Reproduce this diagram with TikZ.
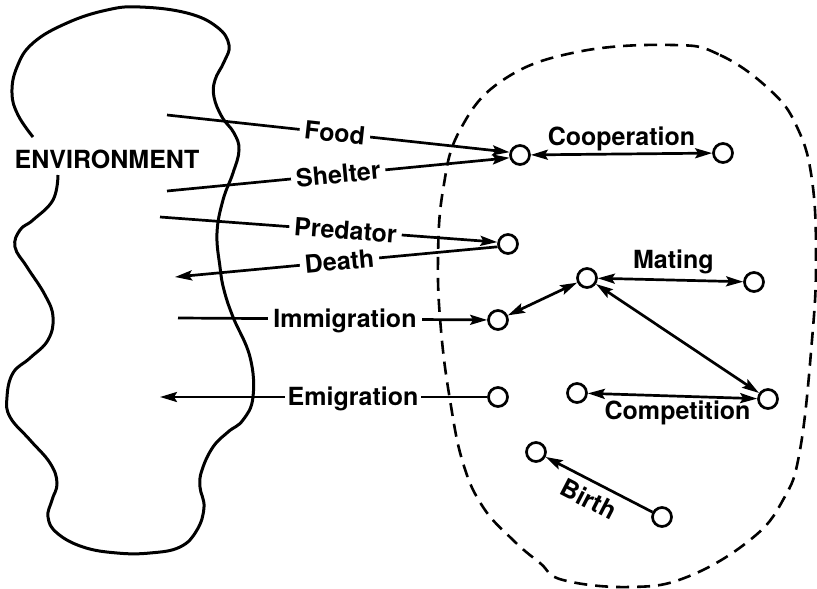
\documentclass[tikz,border=0pt]{standalone}
\usepackage{fontspec}
\setmainfont{TeX Gyre Heros}
\usetikzlibrary{arrows.meta}
\begin{document}
\begin{tikzpicture}[x=1pt,y=-1pt,
  tipstyle/.tip={Stealth[length=17pt,width=10pt,inset=3pt]},
  arr/.style={line width=2.7pt, -tipstyle},
  darr/.style={line width=2.7pt, tipstyle-tipstyle},
  dot/.style={circle, draw, line width=2.7pt, minimum size=19pt, inner sep=0pt, fill=white},
  lbl/.style={font=\bfseries\fontsize{25}{25}\selectfont, fill=white, inner xsep=5pt, inner ysep=1pt, text height=17.5pt, text depth=0pt},
  tag/.style={font=\bfseries\fontsize{25}{25}\selectfont, inner sep=1pt, text height=17.5pt, text depth=0pt}
]
\useasboundingbox (0,0) rectangle (817,589);

% environment outline
\draw[line width=3pt] plot[smooth, tension=0.7] coordinates {(33,137) (18,115) (12,93) (17,67) (33,43) (67,23) (107,10) (140,7) (187,13) (217,27) (229,45) (224,62) (215,80) (214,97) (222,117) (234,133) (239,150) (233,173) (223,200) (217,233) (220,267) (224,290) (233,317) (250,357) (253,397) (243,420) (228,432) (213,447) (202,470) (200,487) (204,507) (197,530) (180,547) (150,553) (117,553) (83,547) (57,533) (48,517) (52,500) (57,483) (50,463) (30,440) (10,417) (7,397) (13,373) (30,358) (48,340) (53,317) (45,295) (27,267) (15,247) (20,230) (33,220) (53,200) (58,175)};
\node[font=\bfseries\fontsize{25}{25}\selectfont] (env) at (107,159) {ENVIRONMENT};

% population boundary
\draw[line width=2.6pt, dash pattern=on 13pt off 8pt] plot[smooth cycle, tension=0.7] coordinates {(673,45) (720,55) (770,90) (797,127) (812,180) (816,260) (812,340) (800,450) (783,500) (750,540) (687,577) (630,587) (563,580) (540,563) (513,540) (483,507) (463,463) (450,400) (441,330) (438,260) (443,190) (460,130) (503,80) (577,52)};

% individuals
\node[dot] (c1) at (520,155) {};
\node[dot] (c2) at (723,153) {};
\node[dot] (c3) at (508,244) {};
\node[dot] (c4) at (587,278) {};
\node[dot] (c5) at (754,282) {};
\node[dot] (c6) at (498,320) {};
\node[dot] (c7) at (498,397) {};
\node[dot] (c8) at (577,393) {};
\node[dot] (c9) at (768,399) {};
\node[dot] (c10) at (536,452) {};
\node[dot] (c11) at (662,517) {};

% free ends in the environment
\coordinate (fs) at (167,115);
\coordinate (ss) at (167,191);
\coordinate (ps) at (160,217);
\coordinate (dt) at (175,277);
\coordinate (is) at (178,318);
\coordinate (et) at (160,397);

\draw[arr] (fs) -- node[lbl, sloped, pos=0.49] {Food} (c1.165);
\draw[arr] (ss) -- node[lbl, sloped, pos=0.5] {Shelter} (c1.195);
\draw[arr] (ps) -- node[lbl, sloped, pos=0.55] {Predator} (c3.170);
\draw[arr] (c3.195) -- node[lbl, sloped, pos=0.49] {Death} (dt);
\draw[arr] (is) -- node[lbl, pos=0.54] {Immigration} (c6);
\draw[arr] (c7) -- node[lbl, inner xsep=3pt, pos=0.41] {Emigration} (et);

\draw[darr] (c1) -- node[tag, above=6pt] {Cooperation} (c2);
\draw[darr] (c6) -- (c4);
\draw[darr] (c4) -- node[tag, above=9pt, pos=0.52] {Mating} (c5);
\draw[darr] (c4) -- (c9);
\draw[darr] (c8) -- node[tag, below=3pt, pos=0.53] {Competition} (c9);
\draw[arr] (c11) -- node[tag, sloped, below=7pt, pos=0.52] {Birth} (c10);
\end{tikzpicture}
\end{document}
